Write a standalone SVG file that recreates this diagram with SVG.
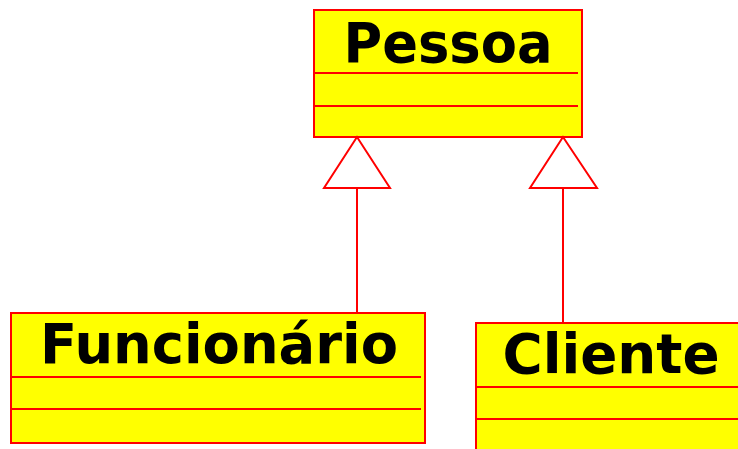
<svg xmlns="http://www.w3.org/2000/svg" width="738" height="449" viewBox="0 0 738 449">
<style>
.box{fill:#ffff00;stroke:#ff0000;stroke-width:2}
.div{stroke:#ff0000;stroke-width:2}
.lbl{font-family:"DejaVu Sans",sans-serif;font-weight:bold;font-size:56px;fill:#000;text-anchor:middle}
.edge{stroke:#ff0000;stroke-width:2;fill:none}
.tri{stroke:#ff0000;stroke-width:2;fill:#ffffff}
</style>
<rect width="738" height="449" fill="#ffffff"/>
<g id="Pessoa">
<rect class="box" x="314" y="10" width="268" height="127"/>
<line class="div" x1="314" y1="73" x2="578" y2="73"/>
<line class="div" x1="314" y1="106" x2="578" y2="106"/>
<text class="lbl" x="448" y="62" textLength="209" lengthAdjust="spacingAndGlyphs">Pessoa</text>
</g>
<g id="Funcionario">
<rect class="box" x="11" y="313" width="414" height="130"/>
<line class="div" x1="11" y1="377" x2="421" y2="377"/>
<line class="div" x1="11" y1="409" x2="421" y2="409"/>
<text class="lbl" x="219" y="363" textLength="358" lengthAdjust="spacingAndGlyphs">Funcionário</text>
</g>
<g id="Cliente">
<rect class="box" x="476" y="323" width="280" height="140"/>
<line class="div" x1="476" y1="387" x2="760" y2="387"/>
<line class="div" x1="476" y1="419" x2="760" y2="419"/>
<text class="lbl" x="611" y="373" textLength="217" lengthAdjust="spacingAndGlyphs">Cliente</text>
</g>
<g id="connectors">
<line class="edge" x1="357" y1="188" x2="357" y2="313"/>
<polygon class="tri" points="357,137 324,188 390,188"/>
<line class="edge" x1="563" y1="188" x2="563" y2="323"/>
<polygon class="tri" points="563,137 530,188 597,188"/>
</g>
</svg>
